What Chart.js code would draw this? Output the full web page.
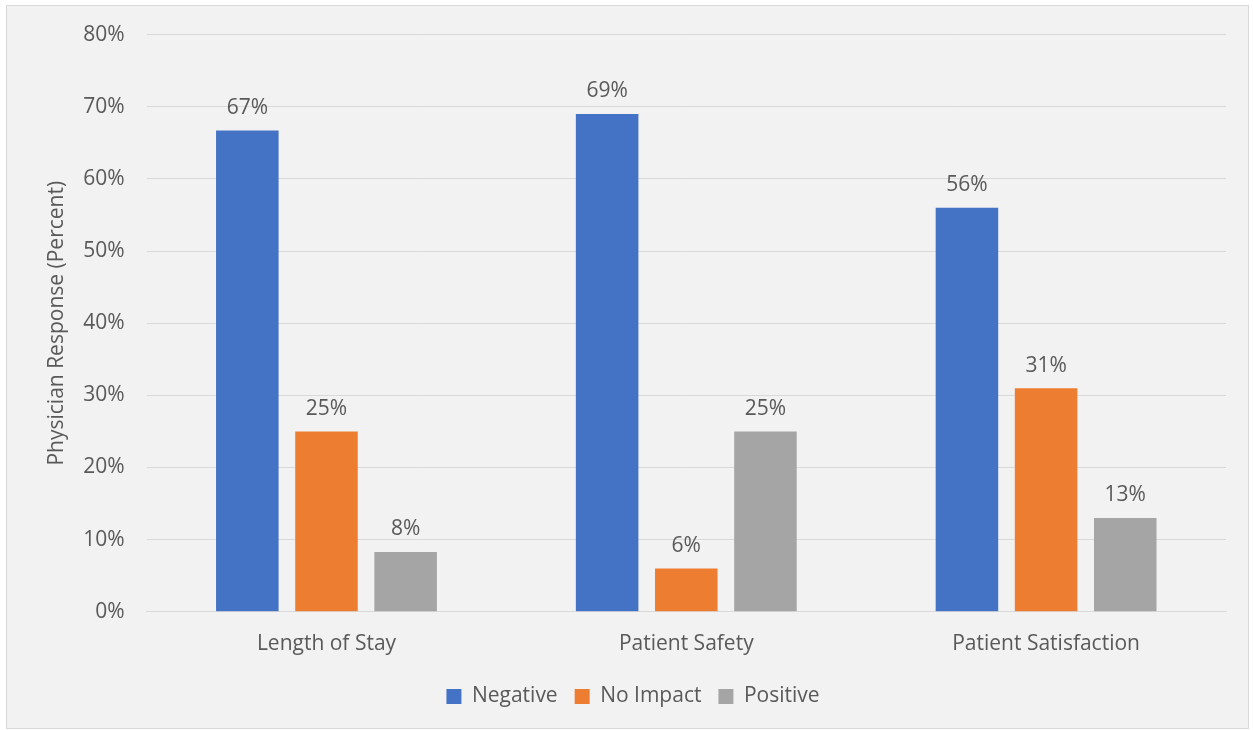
<!DOCTYPE html>
<html>
<head>
<meta charset="utf-8">
<script src="https://cdn.jsdelivr.net/npm/chart.js@4/dist/chart.umd.min.js"></script>
<style>
  html, body { margin: 0; padding: 0; background: #ffffff; }
  #wrap { position: relative; width: 1253px; height: 730px; }
</style>
</head>
<body>
<div id="wrap"><canvas id="chart"></canvas></div>
<script>
"use strict";
// chart data
var categories = ["Length of Stay", "Patient Safety", "Patient Satisfaction"];
var negative = [66.7, 69, 56];
var noImpact = [25, 6, 31];
var positive = [8.3, 25, 13];
var seriesNames = ["Negative", "No Impact", "Positive"];
var seriesColors = ["#4472C4", "#ED7D31", "#A5A5A5"];

var FONT = "'Open Sans', 'Noto Sans', sans-serif";
var TEXT = "#595959";
var SIZE = 21;

// frame + background like the office chart area
var frame = {
    id: "frame",
    beforeDraw: function (chart) {
        var ctx = chart.ctx;
        ctx.save();
        ctx.fillStyle = "#F2F2F2";
        ctx.fillRect(6, 5, chart.width - 10, chart.height - 6);
        ctx.strokeStyle = "#D9D9D9";
        ctx.lineWidth = 1;
        ctx.strokeRect(6.5, 5.5, chart.width - 11, chart.height - 7);
        ctx.restore();
    }
};

// value labels above each bar
var valueLabels = {
    id: "valueLabels",
    afterDatasetsDraw: function (chart) {
        var ctx = chart.ctx;
        ctx.save();
        ctx.font = SIZE + "px " + FONT;
        ctx.fillStyle = TEXT;
        ctx.textAlign = "center";
        ctx.textBaseline = "bottom";
        chart.data.datasets.forEach(function (ds, i) {
            chart.getDatasetMeta(i).data.forEach(function (bar, j) {
                ctx.fillText(Math.round(ds.data[j]) + "%", bar.x, bar.y - 12);
            });
        });
        ctx.restore();
    }
};

var datasets = [negative, noImpact, positive].map(function (vals, i) {
    return {
        label: seriesNames[i],
        data: vals,
        backgroundColor: seriesColors[i],
        borderWidth: 0,
        categoryPercentage: 0.66,
        barPercentage: 0.79
    };
});

new Chart(document.getElementById("chart"), {
    type: "bar",
    data: { labels: categories, datasets: datasets },
    options: {
        responsive: true,
        maintainAspectRatio: false,
        animation: false,
        layout: { padding: { left: 40, right: 27, top: 28, bottom: 13 } },
        plugins: {
            legend: {
                position: "bottom",
                labels: {
                    color: TEXT,
                    font: { family: FONT, size: SIZE },
                    boxWidth: 15,
                    boxHeight: 15,
                    padding: 17
                }
            },
            tooltip: { enabled: false }
        },
        scales: {
            x: {
                grid: { display: false },
                border: { color: "#D9D9D9" },
                ticks: { color: TEXT, font: { family: FONT, size: SIZE }, padding: 12 }
            },
            y: {
                min: 0,
                max: 80,
                grid: { color: "#D9D9D9", drawTicks: false },
                border: { display: false },
                ticks: {
                    stepSize: 10,
                    color: TEXT,
                    font: { family: FONT, size: SIZE },
                    padding: 22,
                    callback: function (v) { return v + "%"; }
                },
                title: {
                    display: true,
                    text: "Physician Response (Percent)",
                    color: TEXT,
                    font: { family: FONT, size: SIZE },
                    padding: { top: 4, bottom: -8 }
                }
            }
        }
    },
    plugins: [frame, valueLabels]
});
</script>
</body>
</html>
